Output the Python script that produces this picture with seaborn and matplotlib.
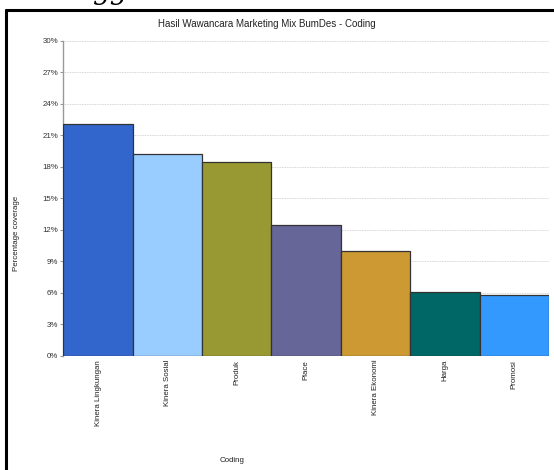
import matplotlib
matplotlib.use("Agg")
import matplotlib.pyplot as plt
import seaborn as sns
import pandas as pd
from matplotlib.ticker import PercentFormatter
from matplotlib.lines import Line2D

sns.set_style("white")
plt.rcParams["font.family"] = ["Liberation Sans", "DejaVu Sans"]

# data
categories = ["Kinera Lingkungan", "Kinera Sosial", "Produk", "Place",
              "Kinera Ekonomi", "Harga", "Promosi"]
coverage = [22.09, 19.23, 18.44, 12.46, 10.01, 6.10, 5.76]
bar_colors = ["#3366CC", "#99CCFF", "#999933", "#666699",
              "#CC9933", "#006666", "#3399FF"]
y_ticks = [0, 3, 6, 9, 12, 15, 18, 21, 24, 27, 30]

df = pd.DataFrame({"Coding": categories, "coverage": coverage})

fig = plt.figure(figsize=(5.54, 4.70), dpi=100)
ax = fig.add_axes([0.1143, 0.2432, 0.8767, 0.6696])

sns.barplot(data=df, x="Coding", y="coverage", hue="Coding",
            palette=bar_colors, saturation=1, width=1.0, edgecolor="#333333",
            linewidth=0.9, legend=False, ax=ax, zorder=3)

ax.set_xlim(-0.5, len(categories) - 0.5)
ax.set_ylim(0, 30)
ax.set_yticks(y_ticks)
ax.yaxis.set_major_formatter(PercentFormatter(decimals=0))
ax.grid(axis="y", color="#C8C8C8", linestyle=(0, (1, 1)), linewidth=0.6, zorder=0)
for s in ["top", "right", "bottom"]:
    ax.spines[s].set_visible(False)
ax.spines["left"].set_color("#999999")
ax.spines["left"].set_linewidth(1.0)
ax.tick_params(axis="y", labelsize=5.7, length=2, color="#999999", pad=1.5,
               labelcolor="#333333", left=True)
ax.tick_params(axis="x", labelsize=5.7, length=0, pad=3, labelcolor="#222222",
               rotation=90)
ax.set_xlabel("")
ax.set_ylabel("")

fig.text(0.482, 1 - 24 / 470, "Hasil Wawancara Marketing Mix BumDes - Coding",
         ha="center", va="center", fontsize=7, color="#222222")
fig.text(232 / 554, 1 - 460 / 470, "Coding", ha="center", va="center",
         fontsize=5.7, color="#222222")
fig.text(17 / 554, 1 - 233 / 470, "Percentage coverage", ha="center", va="center",
         rotation=90, fontsize=5.7, color="#222222")

# page frame around the chart
fig.add_artist(Line2D([6 / 554, 6 / 554], [0, 1 - 10 / 470], color="black",
                      linewidth=2.2, transform=fig.transFigure))
fig.add_artist(Line2D([6 / 554, 1], [1 - 10 / 470, 1 - 10 / 470], color="black",
                      linewidth=2.2, transform=fig.transFigure))
# cut-off text from the page above
fig.text(110 / 554, 1 + 1 / 470, "gg", ha="center", va="baseline", fontsize=20,
         family="DejaVu Serif", style="italic", color="black")

fig.savefig("out.png", dpi=100)
